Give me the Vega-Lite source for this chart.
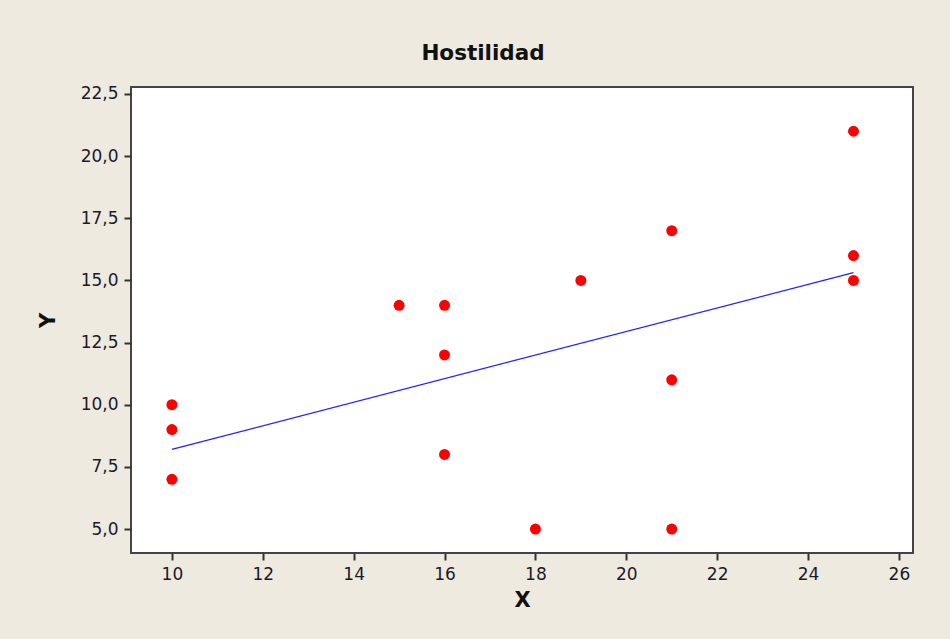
{
  "$schema": "https://vega.github.io/schema/vega-lite/v6.json",
  "autosize": "none",
  "width": 782,
  "height": 466,
  "padding": {"left": 131, "top": 87, "right": 37, "bottom": 86},
  "background": "#EEEAE0",
  "title": {"text": "Hostilidad", "font": "DejaVu Sans", "fontSize": 21.5, "fontWeight": "bold", "color": "#111", "anchor": "middle", "dx": -39, "offset": 20},
  "config": {
    "locale": {"number": {"decimal": ",", "thousands": ".", "grouping": [3], "currency": ["", " €"]}},
    "view": {"stroke": "#444", "strokeWidth": 2, "fill": "white"},
    "axis": {"domain": false, "grid": false, "tickColor": "#333", "tickSize": 7, "tickWidth": 2, "labelFont": "DejaVu Sans", "labelFontSize": 17, "labelColor": "#1a1a2a", "titleFont": "DejaVu Sans", "titleFontSize": 21, "titleFontWeight": "bold", "titleColor": "#111", "labelPadding": 6}
  },
  "data": {"values": [
    {"x": 10, "y": 10}, {"x": 10, "y": 9}, {"x": 10, "y": 7},
    {"x": 15, "y": 14}, {"x": 16, "y": 14}, {"x": 16, "y": 12}, {"x": 16, "y": 8},
    {"x": 18, "y": 5}, {"x": 19, "y": 15},
    {"x": 21, "y": 17}, {"x": 21, "y": 11}, {"x": 21, "y": 5},
    {"x": 25, "y": 21}, {"x": 25, "y": 16}, {"x": 25, "y": 15}
  ]},
  "layer": [
    {
      "mark": {"type": "point", "filled": true, "color": "#FF0000", "opacity": 1, "size": 120},
      "encoding": {
        "x": {"field": "x", "type": "quantitative", "title": "X", "scale": {"domain": [9.1, 26.31], "nice": false, "zero": false}, "axis": {"values": [10, 12, 14, 16, 18, 20, 22, 24, 26], "titlePadding": 7}},
        "y": {"field": "y", "type": "quantitative", "title": "Y", "scale": {"domain": [4.035, 22.78], "nice": false, "zero": false}, "axis": {"values": [5, 7.5, 10, 12.5, 15, 17.5, 20, 22.5], "format": ".1f", "titlePadding": 22}}
      }
    },
    {
      "transform": [{"regression": "y", "on": "x"}],
      "mark": {"type": "line", "color": "#2020FF", "strokeWidth": 1.2},
      "encoding": {
        "x": {"field": "x", "type": "quantitative"},
        "y": {"field": "y", "type": "quantitative"}
      }
    }
  ]
}
